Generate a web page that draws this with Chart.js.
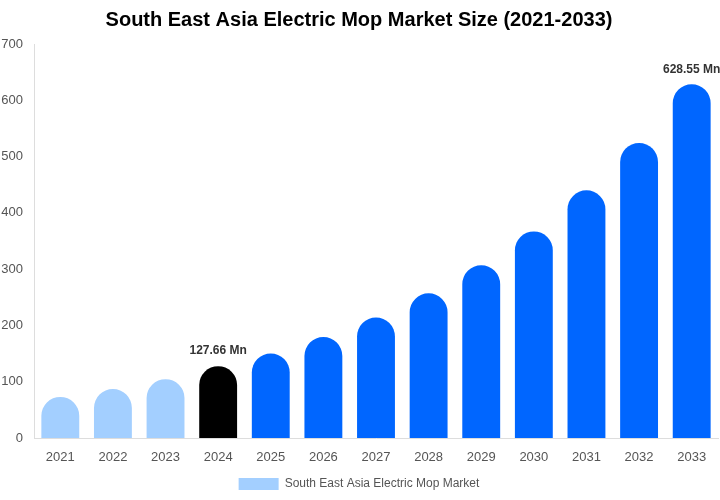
<!DOCTYPE html>
<html>
<head>
<meta charset="utf-8">
<script src="https://cdn.jsdelivr.net/npm/chart.js@4"></script>
<style>
  html, body { margin: 0; padding: 0; background: #fff; }
  #wrap { width: 720px; height: 500px; }
</style>
</head>
<body>
<div id="wrap"><canvas id="chart" width="720" height="500"></canvas></div>
<script>
const years = ['2021', '2022', '2023', '2024', '2025', '2026', '2027', '2028', '2029', '2030', '2031', '2032', '2033']
const marketSize = [73, 87, 104.5, 127.66, 150, 179.5, 214, 257, 307, 367, 440, 524, 628.55]
const labelled = { 3: '127.66 Mn', 12: '628.55 Mn' }
const yTicks = [0, 100, 200, 300, 400, 500, 600, 700]

const barColors = years.map((y, i) => i < 3 ? '#a3cfff' : (i === 3 ? '#000000' : '#0066ff'))

// small inline plugin for the two value labels
const valueLabels = {
    id: 'valueLabels',
    afterDatasetsDraw(chart) {
        const ctx = chart.ctx
        const meta = chart.getDatasetMeta(0)
        ctx.save()
        ctx.font = 'bold 12px "Liberation Sans", Arial, sans-serif'
        ctx.fillStyle = '#333'
        ctx.textAlign = 'center'
        ctx.textBaseline = 'bottom'
        Object.keys(labelled).forEach(k => {
            const bar = meta.data[k]
            ctx.fillText(labelled[k], bar.x, bar.y - 9)
        })
        ctx.restore()
    }
}

new Chart(document.getElementById('chart'), {
    type: 'bar',
    data: {
        labels: years,
        datasets: [{
            label: 'South East Asia Electric Mop Market',
            data: marketSize,
            backgroundColor: barColors,
            borderRadius: { topLeft: 20, topRight: 20 },
            borderSkipped: 'bottom',
            barPercentage: 0.72,
            categoryPercentage: 1
        }]
    },
    options: {
        responsive: false,
        animation: false,
        layout: { padding: { left: 0, right: 2, top: 0, bottom: 0 } },
        plugins: {
            title: {
                display: true,
                text: 'South East Asia Electric Mop Market Size (2021-2033)',
                color: '#000',
                font: { family: '"Liberation Sans", Arial, sans-serif', size: 20, weight: 'bold' },
                padding: { top: 8, bottom: 12 }
            },
            legend: {
                position: 'bottom',
                labels: {
                    color: '#555',
                    boxWidth: 40,
                    boxHeight: 12,
                    font: { family: '"Liberation Sans", Arial, sans-serif', size: 12 },
                    generateLabels: () => [{
                        text: 'South East Asia Electric Mop Market',
                        fillStyle: '#a3cfff',
                        strokeStyle: '#a3cfff',
                        lineWidth: 0,
                        fontColor: '#555'
                    }]
                }
            },
            tooltip: { enabled: false }
        },
        scales: {
            x: {
                afterFit: axis => { axis.height = 30 },
                grid: { display: false, drawTicks: false },
                border: { color: '#ddd' },
                ticks: { color: '#555', font: { family: '"Liberation Sans", Arial, sans-serif', size: 13 }, padding: 12 }
            },
            y: {
                min: 0,
                max: 700,
                afterBuildTicks: axis => { axis.ticks = yTicks.map(v => ({ value: v })) },
                afterFit: axis => { axis.width = 34 },
                grid: { display: false, drawTicks: false },
                border: { color: '#ddd' },
                ticks: { color: '#555', font: { family: '"Liberation Sans", Arial, sans-serif', size: 13 }, padding: 11 }
            }
        }
    },
    plugins: [valueLabels]
})
</script>
</body>
</html>
